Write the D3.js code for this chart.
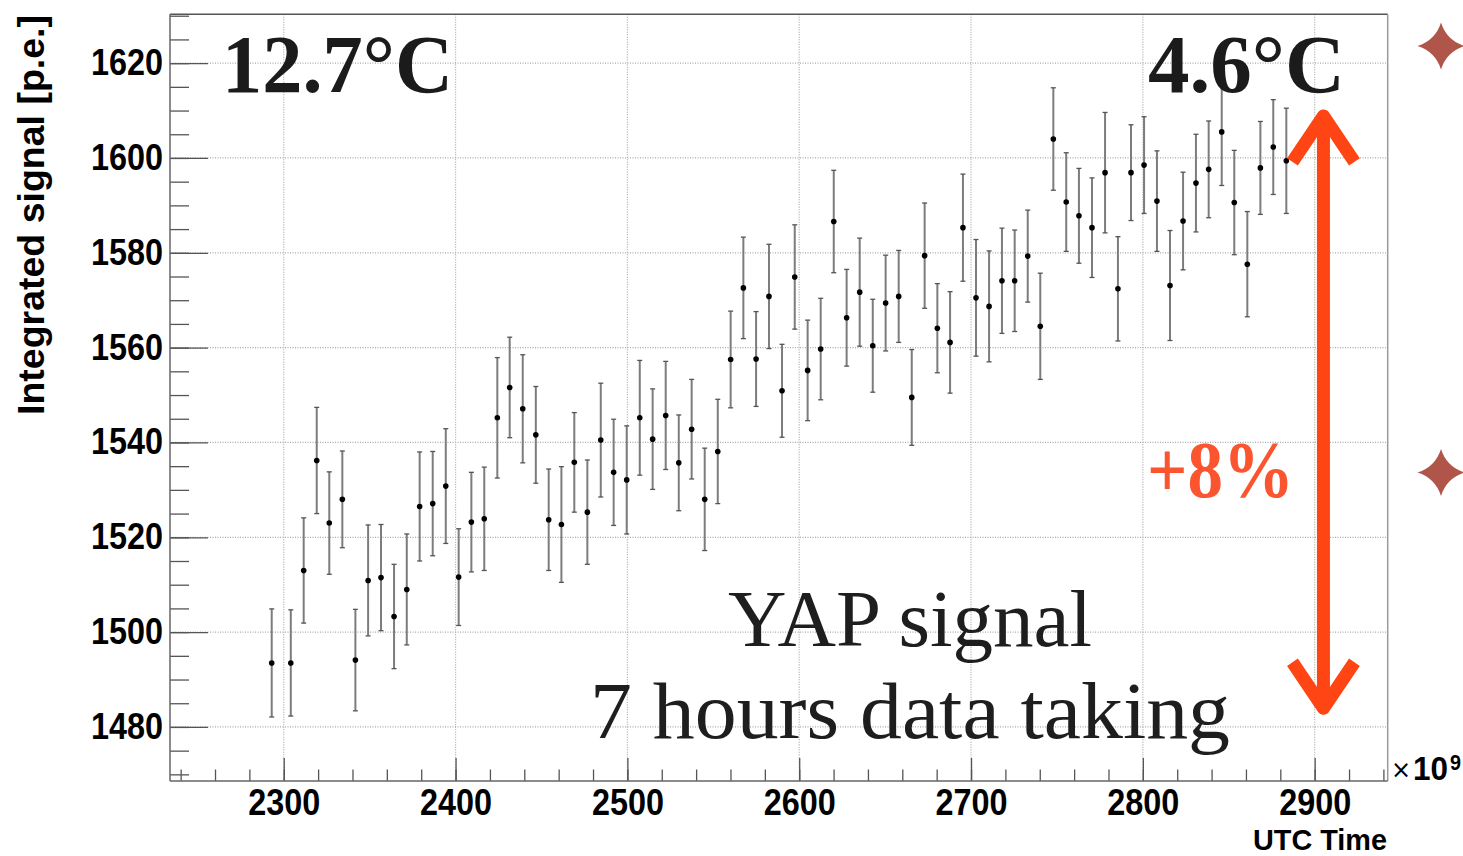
<!DOCTYPE html>
<html>
<head>
<meta charset="utf-8">
<script src="https://cdn.jsdelivr.net/npm/d3@7"></script>
<style>
  html, body { margin: 0; padding: 0; background: #ffffff; }
  svg { display: block; }
</style>
</head>
<body>
<svg id="chart" width="1463" height="856"></svg>
<script>
// Measurement times (UTC, units of 1e9)
const timeValues = [
  2293.0, 2304.1, 2311.6, 2319.2, 2326.5, 2334.1, 2341.7, 2349.1, 2356.6, 2364.2,
  2371.6, 2379.1, 2386.7, 2394.3, 2401.8, 2409.2, 2416.7, 2424.3, 2431.5, 2439.1,
  2446.7, 2454.2, 2461.6, 2469.1, 2476.7, 2484.5, 2492.0, 2499.6, 2507.2, 2514.7,
  2522.3, 2529.9, 2537.4, 2545.0, 2552.6, 2560.1, 2567.5, 2574.9, 2582.4, 2590.0,
  2597.4, 2604.9, 2612.5, 2620.1, 2627.6, 2635.2, 2642.8, 2650.3, 2657.9, 2665.5,
  2673.0, 2680.4, 2687.8, 2695.3, 2702.9, 2710.5, 2718.0, 2725.4, 2733.0, 2740.3,
  2747.9, 2755.4, 2762.8, 2770.4, 2778.0, 2785.5, 2793.1, 2800.7, 2808.2, 2815.8,
  2823.4, 2830.9, 2838.3, 2845.9, 2853.2, 2860.8, 2868.4, 2875.9, 2883.5
];

// Integrated signal per run [p.e.]
const signalValues = [
  1493.5, 1493.5, 1513.0, 1536.2, 1523.0, 1528.0, 1494.1, 1510.9, 1511.5, 1503.3,
  1509.0, 1526.5, 1527.1, 1530.8, 1511.6, 1523.2, 1523.9, 1545.2, 1551.6, 1547.1,
  1541.6, 1523.7, 1522.7, 1535.8, 1525.3, 1540.5, 1533.7, 1532.1, 1545.2, 1540.7,
  1545.7, 1535.7, 1542.8, 1528.0, 1538.1, 1557.5, 1572.6, 1557.6, 1570.8, 1550.9,
  1574.9, 1555.2, 1559.7, 1586.6, 1566.3, 1571.7, 1560.4, 1569.4, 1570.8, 1549.5,
  1579.4, 1564.1, 1561.1, 1585.3, 1570.5, 1568.7, 1574.1, 1574.1, 1579.3, 1564.5,
  1604.0, 1590.7, 1587.8, 1585.3, 1596.9, 1572.4, 1596.9, 1598.5, 1590.9, 1573.1,
  1586.7, 1594.7, 1597.6, 1605.5, 1590.6, 1577.6, 1597.9, 1602.3, 1599.4
];

// Statistical uncertainty on each point [p.e.]
const signalErrors = [
  11.4, 11.2, 11.1, 11.2, 10.8, 10.2, 10.7, 11.7, 11.2, 11.0,
  11.7, 11.5, 11.0, 12.1, 10.2, 10.5, 10.9, 12.7, 10.6, 11.4,
  10.2, 10.7, 12.2, 10.5, 11.0, 12.0, 11.2, 11.4, 12.1, 10.6,
  11.4, 10.1, 10.5, 10.8, 11.0, 10.2, 10.7, 10.0, 11.0, 9.8,
  11.0, 10.6, 10.7, 10.8, 10.2, 11.4, 9.8, 10.1, 9.7, 10.1,
  11.1, 9.4, 10.7, 11.3, 12.3, 11.7, 11.1, 10.7, 9.7, 11.2,
  10.8, 10.4, 10.0, 10.5, 12.7, 11.0, 10.1, 10.2, 10.6, 11.6,
  10.3, 10.3, 10.2, 11.3, 11.0, 11.1, 9.8, 10.0, 11.1
];

// Axis ranges and tick labels
const xDomain = [2233.8, 2942.5];
const yDomain = [1468.6, 1630.3];
const xTickLabels = [2300, 2400, 2500, 2600, 2700, 2800, 2900];
const yTickLabels = [1480, 1500, 1520, 1540, 1560, 1580, 1600, 1620];
const xMinorTicks = d3.range(2240, 2941, 20);
const yMinorTicks = d3.range(1470, 1631, 5);

// Annotation: +8% rise, drawn as a double arrow
const riseArrowX = 2905.1;
const riseArrowRange = [1483.1, 1609.7];

const svg = d3.select("#chart");
const frame = { left: 170, right: 1387.7, top: 14.3, bottom: 781 };

const x = d3.scaleLinear().domain(xDomain).range([frame.left, frame.right]);
const y = d3.scaleLinear().domain(yDomain).range([frame.bottom, frame.top]);

svg.append("rect").attr("width", 1463).attr("height", 856).attr("fill", "#ffffff");

// Grid
const grid = svg.append("g").attr("fill", "none").attr("stroke", "#aaaaaa")
  .attr("stroke-width", 1.2).attr("stroke-dasharray", "1,1.5");
grid.selectAll("line.gx").data(xTickLabels).join("line")
  .attr("x1", d => x(d)).attr("x2", d => x(d))
  .attr("y1", frame.top).attr("y2", frame.bottom);
grid.selectAll("line.gy").data(yTickLabels).join("line")
  .attr("x1", frame.left).attr("x2", frame.right)
  .attr("y1", d => y(d)).attr("y2", d => y(d));

// Axes (ROOT-like ticks pointing into the frame)
const labelFont = "'Liberation Sans', Arial, sans-serif";

const yMajor = svg.append("g").attr("transform", `translate(${frame.left},0)`)
  .call(d3.axisLeft(y).tickValues(yTickLabels).tickSize(-38).tickPadding(7).tickFormat(d3.format("d")));
const yMinor = svg.append("g").attr("transform", `translate(${frame.left},0)`)
  .call(d3.axisLeft(y).tickValues(yMinorTicks).tickSize(-19).tickFormat(""));
const xMajor = svg.append("g").attr("transform", `translate(0,${frame.bottom})`)
  .call(d3.axisBottom(x).tickValues(xTickLabels).tickSize(-23).tickPadding(8).tickFormat(d3.format("d")));
const xMinor = svg.append("g").attr("transform", `translate(0,${frame.bottom})`)
  .call(d3.axisBottom(x).tickValues(xMinorTicks).tickSize(-11.5).tickFormat(""));

[yMajor, yMinor, xMajor, xMinor].forEach(g => {
  g.select(".domain").remove();
  g.selectAll(".tick line").attr("stroke", "#555").attr("stroke-width", 1.3);
  g.selectAll(".tick text")
    .attr("fill", "#000")
    .attr("font-family", labelFont)
    .attr("font-weight", "bold")
    .attr("font-size", 36)
    .attr("textLength", 72)
    .attr("lengthAdjust", "spacingAndGlyphs");
});

// Frame
svg.append("line").attr("x1", frame.left).attr("x2", frame.right)
  .attr("y1", frame.top).attr("y2", frame.top).attr("stroke", "#555").attr("stroke-width", 1.5);
svg.append("line").attr("x1", frame.right).attr("x2", frame.right)
  .attr("y1", frame.top).attr("y2", frame.bottom).attr("stroke", "#9a9a9a").attr("stroke-width", 1.5);
svg.append("line").attr("x1", frame.left).attr("x2", frame.left)
  .attr("y1", frame.top).attr("y2", frame.bottom).attr("stroke", "#666").attr("stroke-width", 1.5);
svg.append("line").attr("x1", frame.left).attr("x2", frame.right)
  .attr("y1", frame.bottom).attr("y2", frame.bottom).attr("stroke", "#666").attr("stroke-width", 1.5);

// Axis titles
svg.append("text")
  .attr("transform", "translate(44,15) rotate(-90)")
  .attr("text-anchor", "end")
  .attr("font-family", labelFont).attr("font-weight", "bold").attr("font-size", 36)
  .attr("textLength", 400).attr("lengthAdjust", "spacingAndGlyphs")
  .text("Integrated signal [p.e.]");

svg.append("text")
  .attr("x", 1253).attr("y", 850)
  .attr("font-family", labelFont).attr("font-weight", "bold").attr("font-size", 30)
  .attr("textLength", 134).attr("lengthAdjust", "spacingAndGlyphs")
  .text("UTC Time");

// Axis exponent: ×10^9
const expo = svg.append("g").attr("fill", "#000");
expo.append("text").attr("x", 1391).attr("y", 778)
  .attr("font-family", "'DejaVu Sans', sans-serif").attr("font-size", 24).text("×");
expo.append("text").attr("x", 1413).attr("y", 780)
  .attr("font-family", labelFont).attr("font-size", 34).attr("font-weight", "bold")
  .attr("textLength", 35).attr("lengthAdjust", "spacingAndGlyphs").text("10");
expo.append("text").attr("x", 1450).attr("y", 770)
  .attr("font-family", labelFont).attr("font-size", 22).attr("font-weight", "bold")
  .attr("textLength", 11).attr("lengthAdjust", "spacingAndGlyphs").text("9");

// Data: error bars and markers
const points = timeValues.map((t, i) => ({ t, v: signalValues[i], e: signalErrors[i] }));
const bars = svg.append("g");
bars.selectAll("line.err").data(points).join("line")
  .attr("x1", d => x(d.t)).attr("x2", d => x(d.t))
  .attr("y1", d => y(d.v + d.e)).attr("y2", d => y(d.v - d.e))
  .attr("stroke", "#7c7c7c").attr("stroke-width", 2);
bars.selectAll("line.capT").data(points).join("line")
  .attr("x1", d => x(d.t) - 2.5).attr("x2", d => x(d.t) + 2.5)
  .attr("y1", d => y(d.v + d.e)).attr("y2", d => y(d.v + d.e))
  .attr("stroke", "#555").attr("stroke-width", 1.3);
bars.selectAll("line.capB").data(points).join("line")
  .attr("x1", d => x(d.t) - 2.5).attr("x2", d => x(d.t) + 2.5)
  .attr("y1", d => y(d.v - d.e)).attr("y2", d => y(d.v - d.e))
  .attr("stroke", "#555").attr("stroke-width", 1.3);
svg.append("g").selectAll("circle").data(points).join("circle")
  .attr("cx", d => x(d.t)).attr("cy", d => y(d.v)).attr("r", 2.8).attr("fill", "#000");

// Temperature labels
const serif = "'Liberation Serif', 'Times New Roman', serif";
svg.append("text").attr("x", 222).attr("y", 92)
  .attr("font-family", serif).attr("font-weight", "bold").attr("font-size", 82)
  .attr("fill", "#1b1b1b").attr("textLength", 231).attr("lengthAdjust", "spacingAndGlyphs")
  .text("12.7°C");
svg.append("text").attr("x", 1148).attr("y", 92)
  .attr("font-family", serif).attr("font-weight", "bold").attr("font-size", 82)
  .attr("fill", "#1b1b1b").attr("textLength", 197).attr("lengthAdjust", "spacingAndGlyphs")
  .text("4.6°C");

// Description
svg.append("text").attr("x", 728).attr("y", 646)
  .attr("font-family", serif).attr("font-size", 80)
  .attr("fill", "#1e1e1e").attr("textLength", 364).attr("lengthAdjust", "spacingAndGlyphs")
  .text("YAP signal");
svg.append("text").attr("x", 590).attr("y", 738)
  .attr("font-family", serif).attr("font-size", 80)
  .attr("fill", "#1e1e1e").attr("textLength", 640).attr("lengthAdjust", "spacingAndGlyphs")
  .text("7 hours data taking");

// Rise arrow
const ax = x(riseArrowX);
const aTop = y(riseArrowRange[1]);
const aBot = y(riseArrowRange[0]);
const arrowColor = "#ff4513";
const headDx = 31, headDy = 50;
const arrow = svg.append("g").attr("fill", "none").attr("stroke", arrowColor)
  .attr("stroke-width", 13).attr("stroke-linejoin", "round");
arrow.append("line").attr("x1", ax).attr("x2", ax).attr("y1", aTop + 4).attr("y2", aBot - 4);
arrow.append("path").attr("d", `M${ax - headDx},${aTop + headDy} L${ax},${aTop + 4} L${ax + headDx},${aTop + headDy}`);
arrow.append("path").attr("d", `M${ax - headDx},${aBot - headDy} L${ax},${aBot - 4} L${ax + headDx},${aBot - headDy}`);

svg.append("text").attr("x", 1147).attr("y", 497)
  .attr("font-family", serif).attr("font-weight", "bold").attr("font-size", 80)
  .attr("fill", "#fb5530").attr("textLength", 147).attr("lengthAdjust", "spacingAndGlyphs")
  .text("+8%");

// Decorative four-pointed stars in the right margin
function starPath(cx, cy, r) {
  const c = r * 0.24;
  return `M${cx},${cy - r} Q${cx + c},${cy - c} ${cx + r},${cy} ` +
         `Q${cx + c},${cy + c} ${cx},${cy + r} ` +
         `Q${cx - c},${cy + c} ${cx - r},${cy} ` +
         `Q${cx - c},${cy - c} ${cx},${cy - r} Z`;
}
svg.append("path").attr("d", starPath(1441, 46, 23.5)).attr("fill", "#b0554a");
svg.append("path").attr("d", starPath(1441, 472.5, 23.5)).attr("fill", "#b0554a");
</script>
</body>
</html>
